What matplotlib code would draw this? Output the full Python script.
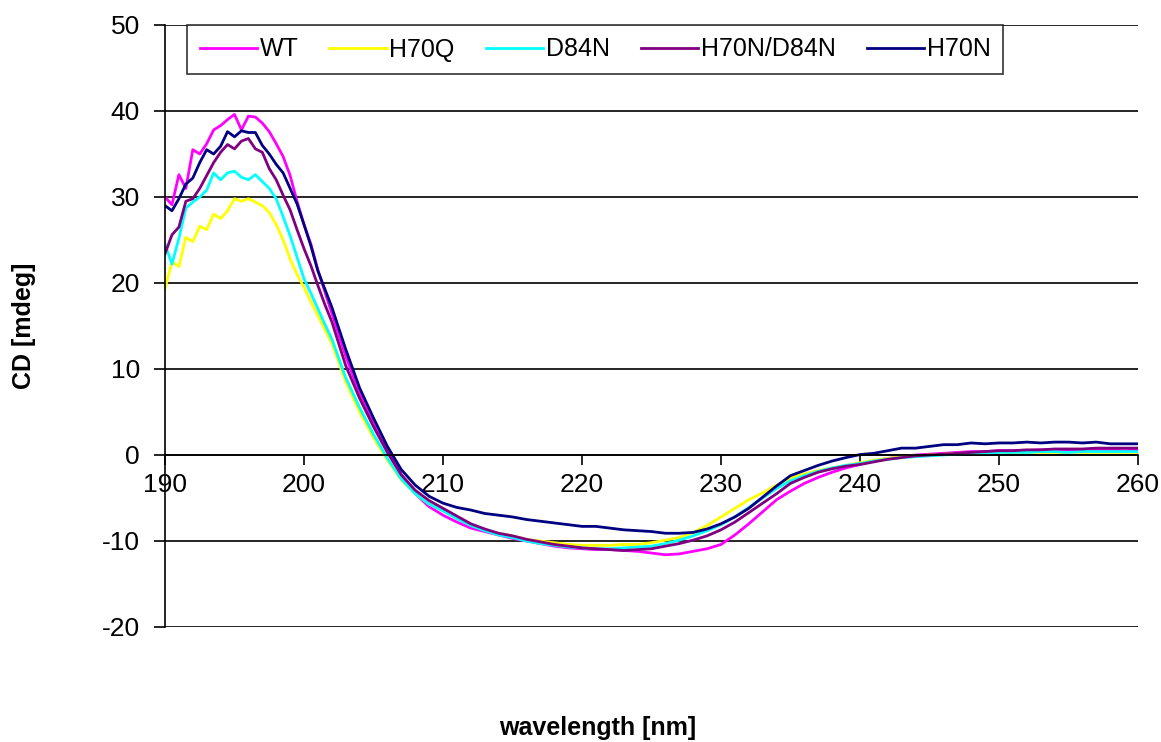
import matplotlib
matplotlib.use("Agg")
import matplotlib.pyplot as plt
import numpy as np

plt.rcParams['font.family'] = ['Liberation Sans', 'DejaVu Sans']
plt.rcParams['axes.unicode_minus'] = False

# wavelength grid: 0.5 nm up to 201.5, then 1 nm
wl = np.concatenate([np.arange(190, 202, 0.5), np.arange(202, 261, 1)])

# CD values [mdeg]
wt = [30.0, 29.1, 32.6, 31.0, 35.5, 35.0, 36.2, 37.8, 38.3, 39.0, 39.6, 37.8,
      39.4, 39.3, 38.6, 37.6, 36.2, 34.7, 32.5, 29.5, 26.8, 24.5, 21.5, 19.0,
      16.5, 11.5, 7.2, 3.6, 0.5, -2.3, -4.5, -6.0, -7.0, -7.8, -8.5, -8.9,
      -9.3, -9.7, -10.0, -10.3, -10.6, -10.8, -10.9, -11.0, -11.0, -11.1, -11.2, -11.4,
      -11.6, -11.5, -11.2, -10.9, -10.4, -9.3, -8.0, -6.6, -5.2, -4.2, -3.3, -2.6,
      -2.0, -1.5, -1.1, -0.7, -0.4, -0.2, 0.0, 0.1, 0.2, 0.3, 0.4, 0.4,
      0.5, 0.5, 0.5, 0.6, 0.6, 0.6, 0.6, 0.6, 0.6, 0.5, 0.6]

h70q = [19.3, 22.5, 21.9, 25.3, 24.8, 26.6, 26.2, 28.0, 27.5, 28.4, 29.8, 29.5,
        29.8, 29.4, 29.0, 28.2, 26.8, 25.0, 22.8, 21.0, 19.5, 17.8, 16.2, 14.6,
        13.0, 8.5, 5.0, 2.0, -0.6, -2.9, -4.5, -5.7, -6.5, -7.3, -8.1, -8.7,
        -9.1, -9.4, -9.8, -10.0, -10.2, -10.4, -10.5, -10.5, -10.5, -10.4, -10.4, -10.2,
        -9.9, -9.6, -9.0, -8.2, -7.2, -6.2, -5.2, -4.4, -3.5, -2.7, -2.2, -1.8,
        -1.5, -1.2, -0.9, -0.6, -0.4, -0.2, -0.1, 0.0, 0.1, 0.2, 0.2, 0.2,
        0.3, 0.3, 0.3, 0.3, 0.3, 0.3, 0.3, 0.3, 0.3, 0.3, 0.3]

d84n = [24.5, 22.2, 25.2, 28.7, 29.4, 30.0, 30.8, 32.8, 32.0, 32.8, 33.0, 32.3,
        32.0, 32.6, 31.8, 31.0, 29.8, 27.7, 25.5, 23.0, 20.5, 18.8, 17.0, 15.2,
        13.5, 9.0, 5.5, 2.4, -0.4, -2.8, -4.5, -5.7, -6.5, -7.4, -8.2, -8.8,
        -9.3, -9.6, -10.0, -10.3, -10.5, -10.7, -10.8, -10.9, -10.9, -10.8, -10.7, -10.6,
        -10.3, -9.9, -9.4, -8.8, -8.1, -7.2, -6.1, -5.0, -3.9, -3.0, -2.4, -1.9,
        -1.5, -1.2, -1.0, -0.7, -0.5, -0.3, -0.2, -0.1, 0.0, 0.1, 0.2, 0.2,
        0.3, 0.3, 0.3, 0.4, 0.4, 0.3, 0.4, 0.4, 0.4, 0.4, 0.4]

h70n_d84n = [23.4, 25.6, 26.5, 29.5, 29.8, 31.0, 32.5, 34.0, 35.2, 36.1, 35.6, 36.5,
             36.8, 35.6, 35.2, 33.3, 32.0, 30.2, 28.5, 26.2, 24.0, 22.0, 19.7, 17.5,
             15.5, 10.4, 6.6, 3.3, 0.3, -2.3, -4.1, -5.3, -6.2, -7.1, -8.0, -8.6,
             -9.1, -9.4, -9.8, -10.1, -10.4, -10.6, -10.8, -10.9, -11.0, -11.1, -11.0, -10.9,
             -10.6, -10.3, -9.9, -9.4, -8.7, -7.8, -6.7, -5.6, -4.5, -3.3, -2.6, -2.0,
             -1.6, -1.3, -1.1, -0.8, -0.5, -0.3, -0.1, 0.0, 0.1, 0.2, 0.3, 0.4,
             0.5, 0.5, 0.6, 0.6, 0.7, 0.7, 0.7, 0.8, 0.8, 0.8, 0.8]

h70n = [29.0, 28.4, 29.8, 31.5, 32.2, 34.0, 35.5, 35.0, 35.9, 37.6, 37.0, 37.7,
        37.5, 37.5, 36.0, 35.0, 33.8, 32.8, 31.0, 29.2, 26.8, 24.3, 21.4, 19.3,
        17.2, 12.3, 7.8, 4.3, 1.0, -1.7, -3.5, -4.8, -5.6, -6.1, -6.4, -6.8,
        -7.0, -7.2, -7.5, -7.7, -7.9, -8.1, -8.3, -8.3, -8.5, -8.7, -8.8, -8.9,
        -9.1, -9.1, -9.0, -8.6, -8.0, -7.2, -6.2, -4.9, -3.6, -2.4, -1.8, -1.2,
        -0.7, -0.3, 0.05, 0.2, 0.5, 0.8, 0.8, 1.0, 1.2, 1.2, 1.4, 1.3,
        1.4, 1.4, 1.5, 1.4, 1.5, 1.5, 1.4, 1.5, 1.3, 1.3, 1.3]

names = ['WT', 'H70Q', 'D84N', 'H70N/D84N', 'H70N']
series = [wt, h70q, d84n, h70n_d84n, h70n]
colors = ['#FF00FF', '#FFFF00', '#00FFFF', '#800080', '#000080']

fig = plt.figure(figsize=(11.61, 7.42), dpi=100)
ax = fig.add_axes([165 / 1161, 1 - 627 / 742, (1138 - 165) / 1161, (627 - 25) / 742])

for y, name, c in zip(series, names, colors):
    ax.plot(wl, y, color=c, linewidth=2.0, label=name)

ax.set_xlim(190, 260)
ax.set_ylim(-20, 50)
ax.set_xticks(np.arange(190, 261, 10))
ax.set_yticks(np.arange(-20, 51, 10))

# horizontal gridlines, x axis crossing at zero
ax.yaxis.grid(True, color='black', linewidth=1.2)
ax.set_axisbelow(True)
ax.spines['top'].set_visible(False)
ax.spines['right'].set_visible(False)
ax.spines['bottom'].set_position(('data', 0))
ax.spines['bottom'].set_linewidth(1.2)
ax.spines['left'].set_linewidth(1.2)
ax.tick_params(axis='x', direction='out', length=7, width=1.2, pad=6, labelsize=19)
ax.tick_params(axis='y', direction='out', length=8, width=1.2, pad=10, labelsize=19)

fig.text(0.021, (1 - 326 / 742), 'CD [mdeg]', rotation=90, fontsize=18,
         fontweight='bold', ha='center', va='center')
fig.text(598 / 1161, 1 - 728 / 742, 'wavelength [nm]', fontsize=18,
         fontweight='bold', ha='center', va='center')

leg = ax.legend(loc='upper left', bbox_to_anchor=((187 - 165) / 973, 1.0, (1003 - 187) / 973, 0),
                ncol=5, mode='expand', fontsize=18, frameon=True, fancybox=False,
                handlelength=2.3, handletextpad=0.1, columnspacing=1.0,
                borderaxespad=0, borderpad=0.5)
leg.get_frame().set_edgecolor('black')
leg.get_frame().set_linewidth(1.2)

fig.savefig('out.png', dpi=100)
